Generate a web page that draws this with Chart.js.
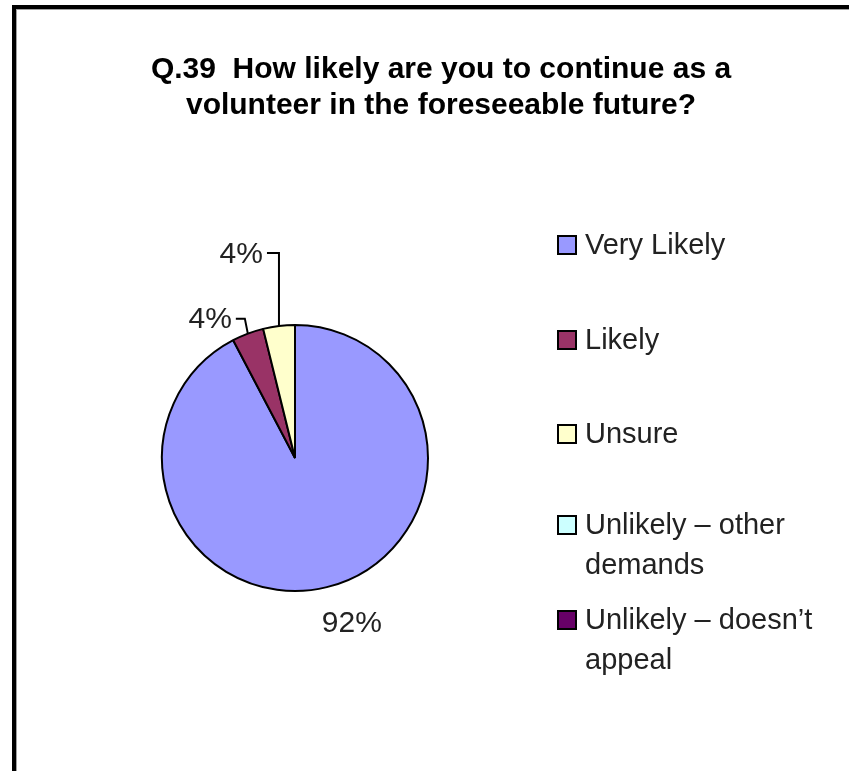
<!DOCTYPE html>
<html lang="en">
<head>
    <meta charset="UTF-8">
    <title>Q.39 Volunteer continuation</title>
    <script src="https://cdn.jsdelivr.net/npm/chart.js"></script>
    <style>
        body { margin: 0; background: #fff; }
        #wrap { width: 849px; height: 771px; }
    </style>
</head>
<body>
<div id="wrap">
    <canvas id="pie" width="849" height="771"></canvas>
</div>
<script>
    // data (26 answers: 24 / 1 / 1 / 0 / 0)
    const titleLines = ['Q.39  How likely are you to continue as a', 'volunteer in the foreseeable future?'];
    const categories = ['Very Likely', 'Likely', 'Unsure', 'Unlikely \u2013 other demands', 'Unlikely \u2013 doesn\u2019t appeal'];
    const responses = [24, 1, 1, 0, 0];
    const sliceColors = ['#9999ff', '#993366', '#ffffcc', '#ccffff', '#660066'];

    // label placement relative to each slice's outer mid point (style only)
    const labelStyle = [
        { leader: null, text: [25, 37], align: 'center' },
        { leader: [[-3, -15], [-12, -15]], text: [-4, 1], align: 'right' },
        { leader: [[0, -73], [-12, -73]], text: [-4, 2], align: 'right' },
        null,
        null
    ];

    const FONT = '"Liberation Sans", Arial, sans-serif';

    function wrapText(ctx, text, maxW) {
        const words = text.split(' ');
        const lines = [];
        let cur = '';
        words.forEach(w => {
            const test = cur ? cur + ' ' + w : w;
            if (ctx.measureText(test).width > maxW && cur) {
                lines.push(cur);
                cur = w;
            } else {
                cur = test;
            }
        });
        if (cur) lines.push(cur);
        return lines;
    }

    const excelLook = {
        id: 'excelLook',
        beforeDraw(chart) {
            const ctx = chart.ctx;
            ctx.save();
            ctx.fillStyle = '#fff';
            ctx.fillRect(0, 0, chart.width, chart.height);
            // frame
            ctx.fillStyle = '#000';
            ctx.fillRect(12, 5, 4, chart.height - 5);
            ctx.fillRect(12, 5, chart.width - 12, 4);
            ctx.fillStyle = '#a0a0a0';
            ctx.fillRect(16, 9, 1, chart.height - 9);
            ctx.fillRect(16, 9, chart.width - 16, 1);
            // title
            ctx.fillStyle = '#000';
            ctx.font = 'bold 30px ' + FONT;
            ctx.textAlign = 'center';
            ctx.textBaseline = 'middle';
            titleLines.forEach((t, i) => ctx.fillText(t, 441, 70 + i * 36));
            ctx.restore();
        },
        afterDatasetsDraw(chart) {
            const ctx = chart.ctx;
            const meta = chart.getDatasetMeta(0);
            const vals = chart.data.datasets[0].data;
            const total = vals.reduce((a, b) => a + b, 0);
            ctx.save();
            ctx.font = '30px ' + FONT;
            ctx.fillStyle = '#222';
            ctx.strokeStyle = '#000';
            ctx.lineWidth = 2;
            ctx.textBaseline = 'middle';
            meta.data.forEach((arc, i) => {
                const st = labelStyle[i];
                if (!st || !vals[i]) return;
                const mid = (arc.startAngle + arc.endAngle) / 2;
                const ax = arc.x + Math.cos(mid) * arc.outerRadius;
                const ay = arc.y + Math.sin(mid) * arc.outerRadius;
                let ex = ax, ey = ay;
                if (st.leader) {
                    ctx.beginPath();
                    ctx.moveTo(ax, ay);
                    st.leader.forEach(p => {
                        ex = ax + p[0];
                        ey = ay + p[1];
                        ctx.lineTo(ex, ey);
                    });
                    ctx.stroke();
                }
                ctx.textAlign = st.align;
                const txt = Math.round(vals[i] / total * 100) + '%';
                ctx.fillText(txt, ex + st.text[0], ey + st.text[1]);
            });

            // legend on the right
            const colors = chart.data.datasets[0].backgroundColor;
            const rowY = [245, 340, 434, 525, 620];
            ctx.font = '29px ' + FONT;
            ctx.textAlign = 'left';
            chart.data.labels.forEach((lab, i) => {
                const y = rowY[i];
                ctx.fillStyle = colors[i];
                ctx.fillRect(558, y - 9, 18, 18);
                ctx.lineWidth = 2;
                ctx.strokeStyle = '#000';
                ctx.strokeRect(558, y - 9, 18, 18);
                ctx.fillStyle = '#222';
                const lines = wrapText(ctx, lab, 240);
                lines.forEach((l, k) => ctx.fillText(l, 585, y + 1 + k * 40));
            });
            ctx.restore();
        }
    };

    new Chart(document.getElementById('pie'), {
        type: 'pie',
        data: {
            labels: categories,
            datasets: [{
                data: responses,
                backgroundColor: sliceColors,
                borderColor: '#000',
                borderWidth: 2,
                hoverOffset: 0
            }]
        },
        options: {
            responsive: false,
            animation: false,
            events: [],
            radius: 133,
            layout: { padding: { left: 162, right: 421, top: 325, bottom: 180 } },
            plugins: {
                legend: { display: false },
                title: { display: false },
                tooltip: { enabled: false }
            }
        },
        plugins: [excelLook]
    });
</script>
</body>
</html>
